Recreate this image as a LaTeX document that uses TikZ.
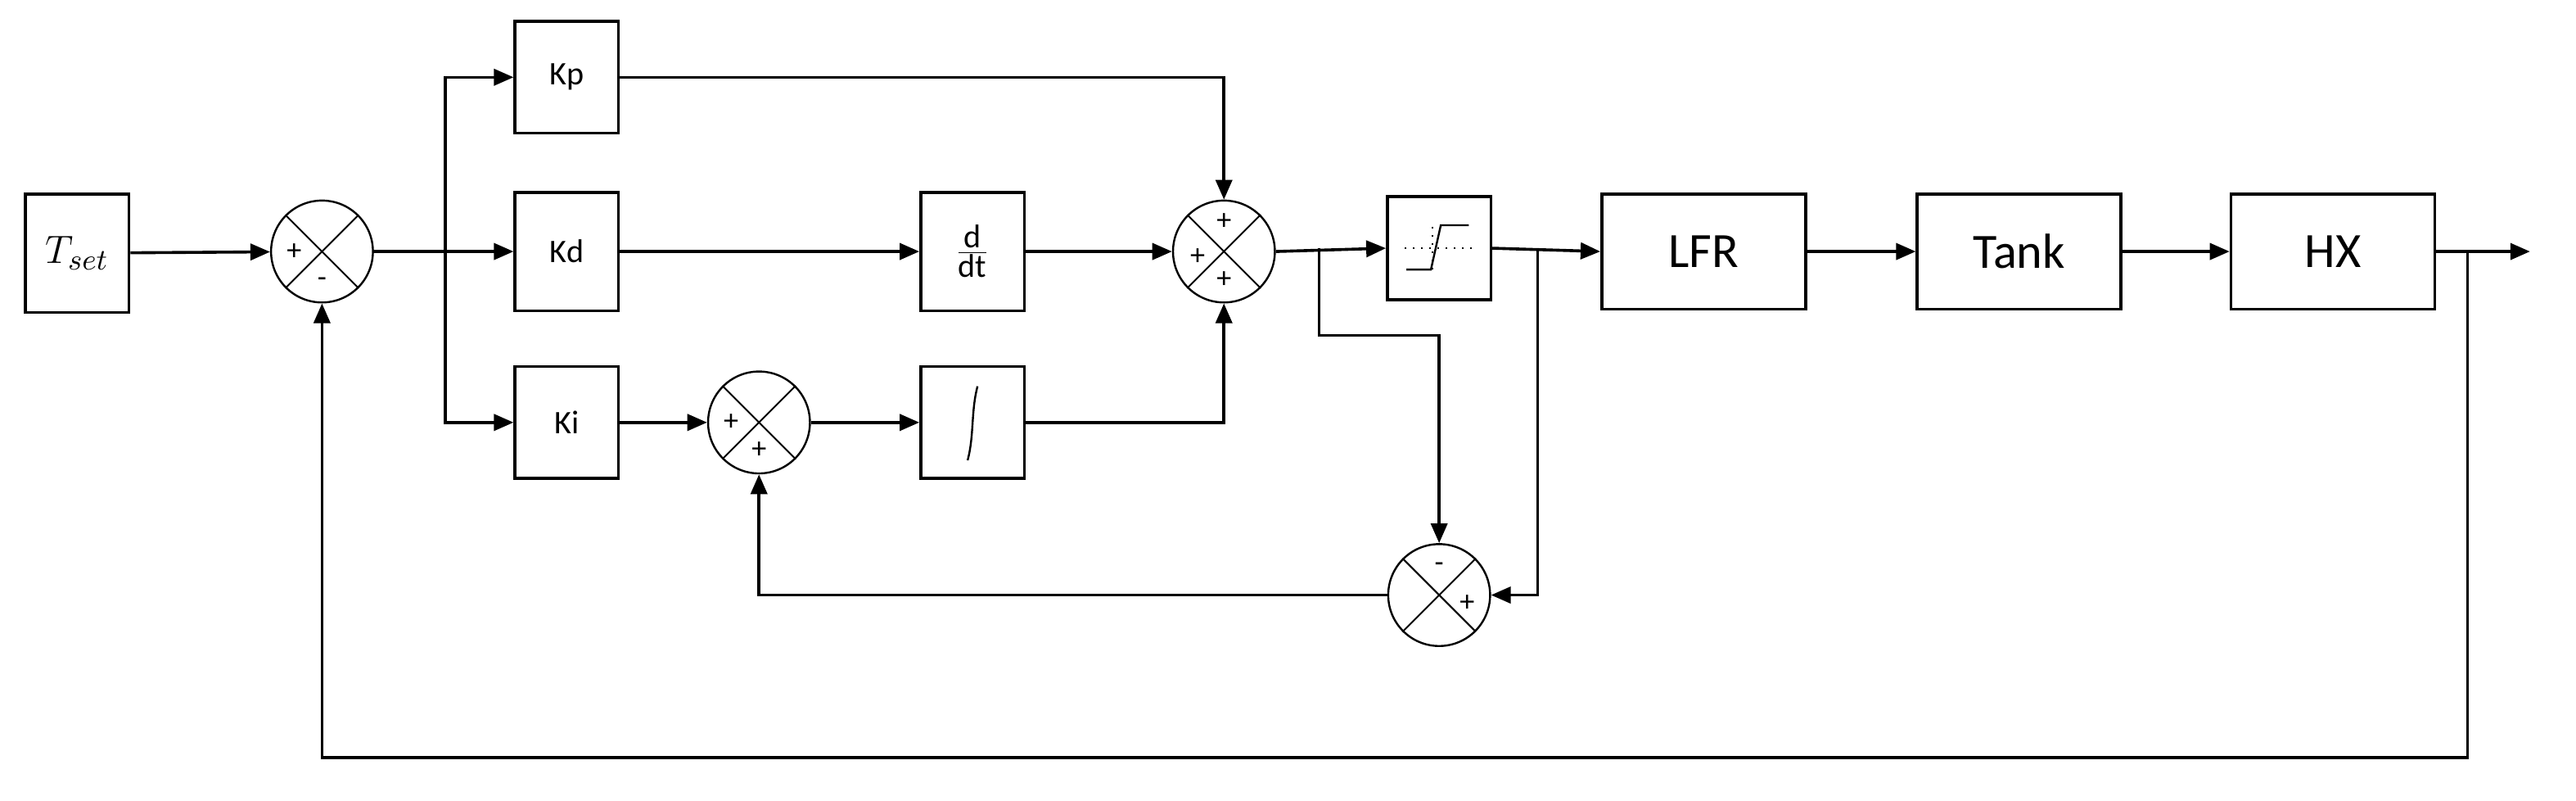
\documentclass[tikz,border=0pt]{standalone}
\usepackage{fontspec}
\setmainfont{Carlito}
\usetikzlibrary{arrows.meta}
\begin{document}
\begin{tikzpicture}[x=0.5pt,y=-0.5pt,line width=0.9pt,
  blk/.style={draw,minimum width=31.5pt,minimum height=34pt,inner sep=0pt,font=\fontsize{10}{12}\selectfont},
  big/.style={draw,minimum width=62pt,minimum height=35pt,inner sep=0pt,font=\fontsize{15}{18}\selectfont},
  sum/.style={draw,circle,minimum size=31pt,inner sep=0pt,line width=0.6pt},
  sg/.style={font=\fontsize{9}{10}\selectfont,inner sep=0pt},
  ar/.style={-{Triangle[length=6pt,width=5pt]}}]
\useasboundingbox (0,0) rectangle (1568,487);
\newcommand{\crossit}[1]{\draw[line width=0.5pt] (#1.45)--(#1.225) (#1.135)--(#1.315);}
\node[blk,minimum height=36pt] (tset) at (47,154) {\fontsize{13}{14}\selectfont$T_{set}$};
\node[sum] (s1) at (196,153) {};\crossit{s1}
\node[sg] at (179,153) {+};\node[sg] at (196,172) {-};
\node[blk] (kp) at (345,47) {Kp};
\node[blk,minimum height=36pt] (kd) at (345,153) {Kd};
\node[blk] (ki) at (345,257) {Ki};
\node[sum] (s3) at (462,257) {};\crossit{s3}
\node[sg] at (445,257) {+};\node[sg] at (462,274) {+};
\node[blk,minimum height=36pt] (dd) at (592,153) {};
\node[font=\fontsize{10}{12}\selectfont,inner sep=1pt] (ddt) at (592,153) {$\frac{\textrm{d}}{\textrm{dt}}$};
\node[blk] (int) at (592,257) {};
\draw[line width=0.6pt] (595,235) .. controls (591,250) and (593,265) .. (589,280);
\node[sum] (s2) at (745,153) {};\crossit{s2}
\node[sg] at (745,135) {+};\node[sg] at (729,156) {+};\node[sg] at (745,170) {+};
\node[draw,minimum width=31.5pt,minimum height=31.5pt,inner sep=0pt] (sat) at (876,151) {};
\draw[dotted,line width=0.5pt] (855,151)--(898,151) (872,138)--(872,166);
\draw[line width=0.6pt] (856,164)--(871,164)--(877,137)--(894,137);
\node[big] (lfr) at (1037,153) {LFR};
\node[big] (tank) at (1229,153) {Tank};
\node[big] (hx) at (1420,153) {HX};
\node[sum] (s4) at (876,362) {};\crossit{s4}
\node[sg] at (876,345) {-};\node[sg] at (893,367) {+};
\coordinate (br1) at (271,153);
\coordinate (out) at (1540,153);
\draw[ar] (tset) -- (s1);
\draw (s1) -- (br1);
\draw[ar] (br1) |- (kp);
\draw[ar] (br1) -- (kd);
\draw[ar] (br1) |- (ki);
\draw[ar] (kp) -| (s2);
\draw[ar] (kd) -- (dd);
\draw[ar] (dd) -- (s2);
\draw[ar] (ki) -- (s3);
\draw[ar] (s3) -- (int);
\draw[ar] (int) -| (s2);
\draw[ar] (s2.east) -- (sat.west);
\draw[ar] (803,151) -- (803,204) -- (876,204) -- (s4.north);
\draw[ar] (sat.east) -- (lfr.west);
\draw[ar] (936,151) -- (936,362) -- (s4.east);
\draw[ar] (s4) -| (s3);
\draw[ar] (lfr) -- (tank);
\draw[ar] (tank) -- (hx);
\draw[ar] (hx) -- (out);
\draw[ar] (1502,153) -- (1502,461) -| (s1);
\end{tikzpicture}
\end{document}
